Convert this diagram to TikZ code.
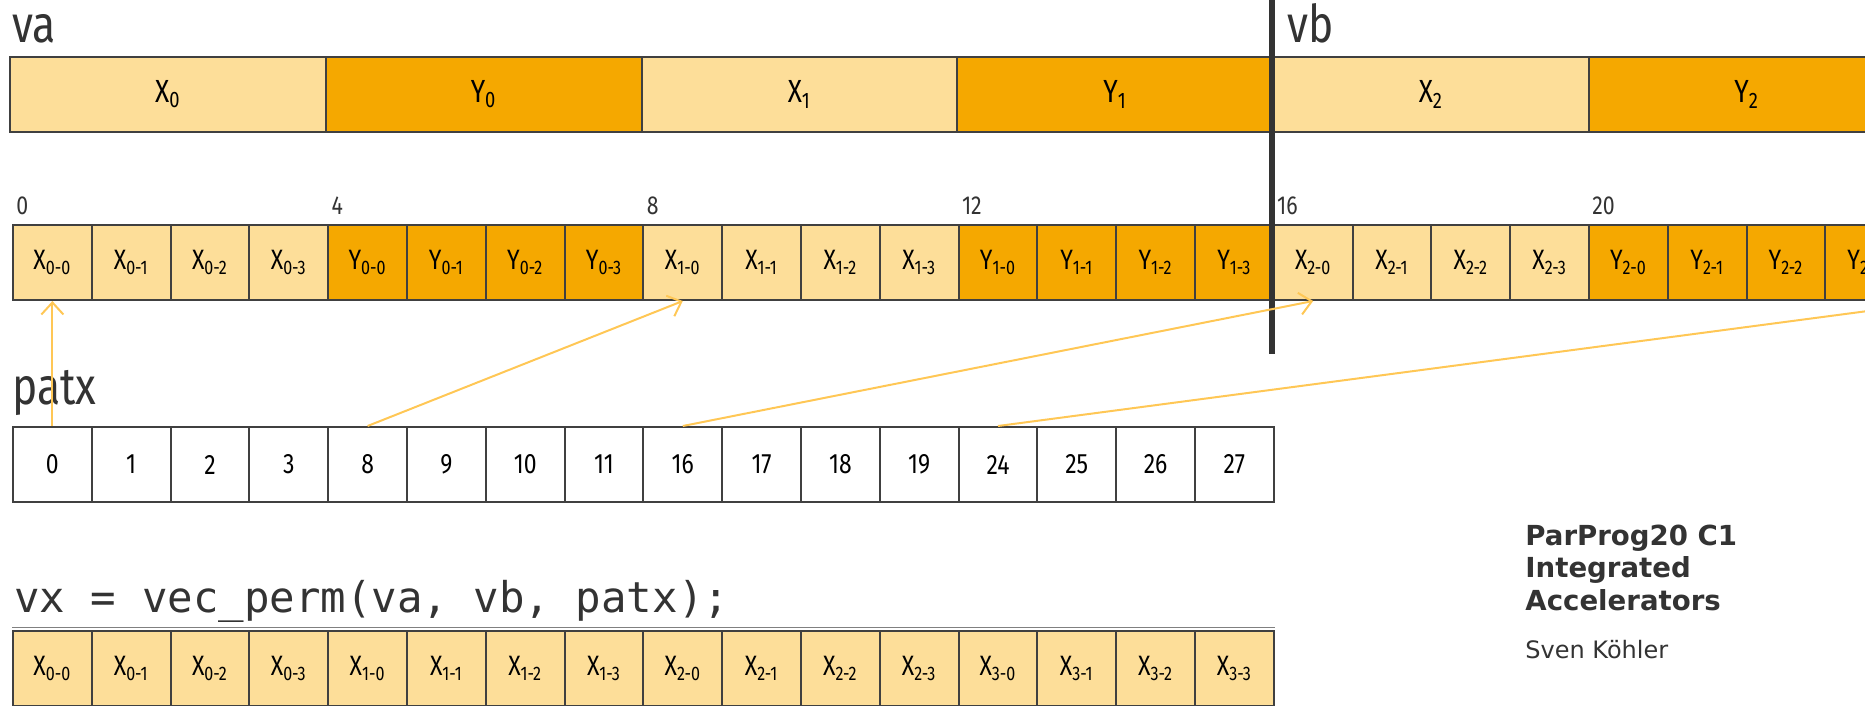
\documentclass[tikz,border=0pt]{standalone}
\usepackage{fontspec}
\setmainfont{Fira Sans}
\setmonofont{DejaVu Sans Mono}
\newfontfamily\cellfam[FakeStretch=0.82]{Fira Sans}
\newfontfamily\titfam{DejaVu Sans}
\usetikzlibrary{arrows.meta}
\definecolor{lightx}{HTML}{FDDE99}
\definecolor{darky}{HTML}{F5A800}
\definecolor{bord}{HTML}{404040}
\definecolor{txt}{HTML}{333333}
\definecolor{arr}{HTML}{FFC755}
\begin{document}
\begin{tikzpicture}[x=0.5pt,y=-0.5pt,
  cellbox/.style={draw=bord, line width=1pt, minimum width=39.4pt, minimum height=37.5pt, inner sep=0pt, anchor=north west, font=\cellfam\fontsize{14}{16}\selectfont},
  xcell/.style={cellbox, fill=lightx},
  ycell/.style={cellbox, fill=darky},
  pcell/.style={cellbox, fill=white},
  bigbox/.style={cellbox, minimum width=157.875pt, font=\cellfam\fontsize{16}{18}\selectfont},
  biglabel/.style={font=\cellfam\fontsize{26}{30}\selectfont, text=txt, anchor=base west, inner sep=0pt},
  idx/.style={font=\cellfam\fontsize{13}{15}\selectfont, text=txt, anchor=base west, inner sep=0pt},
  titline/.style={font=\titfam\fontsize{13.5}{16}\selectfont, text=txt, anchor=base west, inner sep=0pt},
  conn/.style={draw=arr, line width=1pt, -{Straight Barb[length=6pt,width=11pt]}},
]
\clip (0,0) rectangle (1865,706);
% va / vb big blocks
\foreach \b in {0,...,5}{
  \pgfmathtruncatemacro\j{\b/2}
  \pgfmathtruncatemacro\odd{mod(\b,2)}
  \ifnum\odd=0 \def\st{lightx}\def\lt{X}\else\def\st{darky}\def\lt{Y}\fi
  \node[bigbox, fill=\st] (va\b) at ({9+\b*315.75},56) {\lt\textsubscript{\j}};
}
% small element row
\foreach \i in {0,...,24}{
  \pgfmathtruncatemacro\g{\i/8}
  \pgfmathtruncatemacro\k{mod(\i,4)}
  \pgfmathtruncatemacro\isx{mod(\i,8)<4 ? 1 : 0}
  \ifnum\isx=1 \def\st{xcell}\def\lt{X}\else\def\st{ycell}\def\lt{Y}\fi
  \node[\st] (s\i) at ({12+\i*78.8},224) {\lt\textsubscript{\g-\k}};
}
\foreach \i in {0,4,...,24}{
  \node[idx] (n\i) at ([shift={(4,-10)}]s\i.north west) {\i};
}
% divider
\draw[draw=txt, line width=3pt] (1272,0) -- (1272,354);
% labels
\node[biglabel] (lva) at (12,43) {va};
\node[biglabel] (lvb) at (1287,43) {vb};
\node[biglabel] (lpatx) at (12,404) {patx};
% patx row
\foreach \v [count=\c from 0] in {0,1,2,3,8,9,10,11,16,17,18,19,24,25,26,27}{
  \node[pcell] (p\c) at ({12+\c*78.8},426) {\v};
}
% result row
\foreach \i in {0,...,15}{
  \pgfmathtruncatemacro\g{\i/4}
  \pgfmathtruncatemacro\k{mod(\i,4)}
  \node[xcell] (v\i) at ({12+\i*78.8},630) {X\textsubscript{\g-\k}};
}
\draw[draw=gray, line width=0.6pt] ([yshift=1.1pt]v0.north west) -- ([yshift=1.1pt]v15.north east);
% code
\node[anchor=base west, inner sep=0pt, text=txt, font=\ttfamily\fontsize{21.2}{25}\selectfont] (code) at (14,612) {vx = vec\_perm(va, vb, patx);};
% title
\node[titline, font=\titfam\bfseries\fontsize{13.8}{16}\selectfont] (t1) at (1525,545) {ParProg20 C1};
\node[titline, font=\titfam\bfseries\fontsize{13.8}{16}\selectfont] (t2) at (1525,577) {Integrated};
\node[titline, font=\titfam\bfseries\fontsize{13.8}{16}\selectfont] (t3) at (1525,610) {Accelerators};
\node[titline, font=\titfam\fontsize{12}{14}\selectfont] (t4) at (1525,658) {Sven Köhler};
% connectors
\draw[conn] (p0.north) -- (s0.south);
\draw[conn] (p4.north) -- (s8.south);
\draw[conn] (p8.north) -- (s16.south);
\draw[conn] (p12.north) -- (s24.south);
\end{tikzpicture}
\end{document}
